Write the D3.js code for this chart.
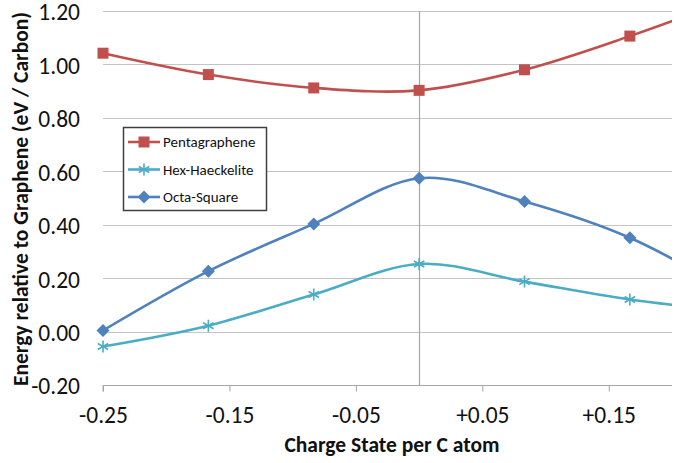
<!DOCTYPE html>
<html><head><meta charset="utf-8">
<script src="https://cdn.jsdelivr.net/npm/d3@7"></script>
<style>body{margin:0;background:#fff}svg{display:block}</style>
</head><body>
<script>
const xValues = [-0.25, -1/6, -1/12, 0, 1/12, 1/6, 0.25];
const pentagraphene = [1.042, 0.962, 0.912, 0.903, 0.980, 1.106, 1.25];
const hexHaeckelite = [-0.056, 0.022, 0.139, 0.253, 0.187, 0.120, 0.075];
const octaSquare = [0.004, 0.226, 0.403, 0.574, 0.487, 0.351, 0.14];
const seriesNames = ["Pentagraphene", "Hex-Haeckelite", "Octa-Square"];
const seriesColors = ["#C0504D", "#4BACC6", "#4F81BD"];
const seriesMarkers = ["square", "star", "diamond"];
const xTicks = [-0.25, -0.15, -0.05, 0.05, 0.15];
const yTicks = [-0.2, 0, 0.2, 0.4, 0.6, 0.8, 1.0, 1.2];

const W = 677, H = 463;
const svg = d3.select("body").append("svg").attr("width", W).attr("height", H);
const x = d3.scaleLinear().domain([-0.25, 0.2]).range([103, 672]);
const y = d3.scaleLinear().domain([-0.2, 1.2]).range([385, 11]);
const font = "Calibri, Carlito, 'Open Sans', Arial, sans-serif";

// gridlines
svg.append("g").selectAll("line").data(yTicks.slice(1)).join("line")
  .attr("x1", x(-0.25)).attr("x2", x(0.2))
  .attr("y1", d => Math.round(y(d)) + 0.5).attr("y2", d => Math.round(y(d)) + 0.5)
  .attr("stroke", "#c4c4c4").attr("stroke-width", 1);

// vertical axis line at 0
svg.append("line").attr("x1", Math.round(x(0)) + 0.5).attr("x2", Math.round(x(0)) + 0.5)
  .attr("y1", y(1.2)).attr("y2", y(-0.2)).attr("stroke", "#a6a6a6").attr("stroke-width", 1.2);

// x axis at bottom
const xAxis = d3.axisBottom(x).tickValues(xTicks).tickSize(6)
  .tickFormat(d => (d > 0 ? "+" : "") + d.toFixed(2));
const gx = svg.append("g").attr("transform", `translate(0,${Math.round(y(-0.2)) + 0.5})`).call(xAxis);
gx.select(".domain").attr("stroke", "#a6a6a6").attr("d", `M${x(-0.25)},6V0H${x(0.2)}`);
gx.selectAll(".tick line").attr("stroke", "#a6a6a6");
gx.selectAll("text").attr("font-family", font).attr("font-size", 23.5).attr("fill", "#111")
  .attr("y", 37.5).attr("dy", 0);

// y axis labels (no line)
const yAxis = d3.axisLeft(y).tickValues(yTicks).tickSize(0).tickPadding(23)
  .tickFormat(d => d.toFixed(2));
const gy = svg.append("g").attr("transform", `translate(${x(-0.25)},0)`).call(yAxis);
gy.select(".domain").remove();
gy.selectAll("text").attr("font-family", font).attr("font-size", 23.5).attr("fill", "#111")
  .attr("dy", "0.38em");

// titles
svg.append("text").attr("x", 392).attr("y", 452).attr("text-anchor", "middle")
  .attr("font-family", font).attr("font-weight", "bold").attr("font-size", 21.5).attr("fill", "#111")
  .text("Charge State per C atom");
svg.append("text").attr("transform", "translate(27.5,199) rotate(-90)").attr("text-anchor", "middle")
  .attr("font-family", font).attr("font-weight", "bold").attr("font-size", 21.5).attr("fill", "#111")
  .text("Energy relative to Graphene (eV / Carbon)");

// clip
svg.append("clipPath").attr("id", "clip").append("rect")
  .attr("x", x(-0.25) - 10).attr("y", 0).attr("width", x(0.2) - x(-0.25) + 10).attr("height", H);

const line = d3.line().x(d => x(d[0])).y(d => y(d[1])).curve(d3.curveCatmullRom.alpha(0));
const allSeries = [pentagraphene, hexHaeckelite, octaSquare];

function drawMarker(g, type, color, cx, cy) {
  if (type === "square") {
    g.append("rect").attr("x", cx - 5.5).attr("y", cy - 5.5).attr("width", 11).attr("height", 11)
      .attr("fill", color);
  } else if (type === "diamond") {
    g.append("path").attr("d", `M${cx},${cy - 6.5}L${cx + 6.5},${cy}L${cx},${cy + 6.5}L${cx - 6.5},${cy}Z`)
      .attr("fill", color);
  } else {
    const r = 6;
    g.append("path").attr("d",
      `M${cx},${cy - r}V${cy + r}M${cx - r * 0.87},${cy - r * 0.5}L${cx + r * 0.87},${cy + r * 0.5}M${cx - r * 0.87},${cy + r * 0.5}L${cx + r * 0.87},${cy - r * 0.5}`)
      .attr("stroke", color).attr("stroke-width", 1.6).attr("fill", "none");
  }
}

const plot = svg.append("g").attr("clip-path", "url(#clip)");
allSeries.forEach((vals, i) => {
  const pts = xValues.map((xv, j) => [xv, vals[j]]);
  plot.append("path").datum(pts).attr("d", line).attr("fill", "none")
    .attr("stroke", seriesColors[i]).attr("stroke-width", 2.6);
});
allSeries.forEach((vals, i) => {
  const mg = plot.append("g");
  xValues.forEach((xv, j) => {
    if (xv <= 0.2) drawMarker(mg, seriesMarkers[i], seriesColors[i], x(xv), y(vals[j]));
  });
});

// legend
const lg = svg.append("g");
lg.append("rect").attr("x", 123.5).attr("y", 127.5).attr("width", 143).attr("height", 83)
  .attr("fill", "#fff").attr("stroke", "#404040").attr("stroke-width", 1.5);
seriesNames.forEach((name, i) => {
  const ly = 142 + i * 27.5;
  lg.append("line").attr("x1", 128).attr("x2", 160).attr("y1", ly).attr("y2", ly)
    .attr("stroke", seriesColors[i]).attr("stroke-width", 2.6);
  drawMarker(lg, seriesMarkers[i], seriesColors[i], 144, ly);
  lg.append("text").attr("x", 163).attr("y", ly + 5).attr("font-family", font)
    .attr("font-size", 15).attr("fill", "#111").text(name);
});
</script>
</body></html>
